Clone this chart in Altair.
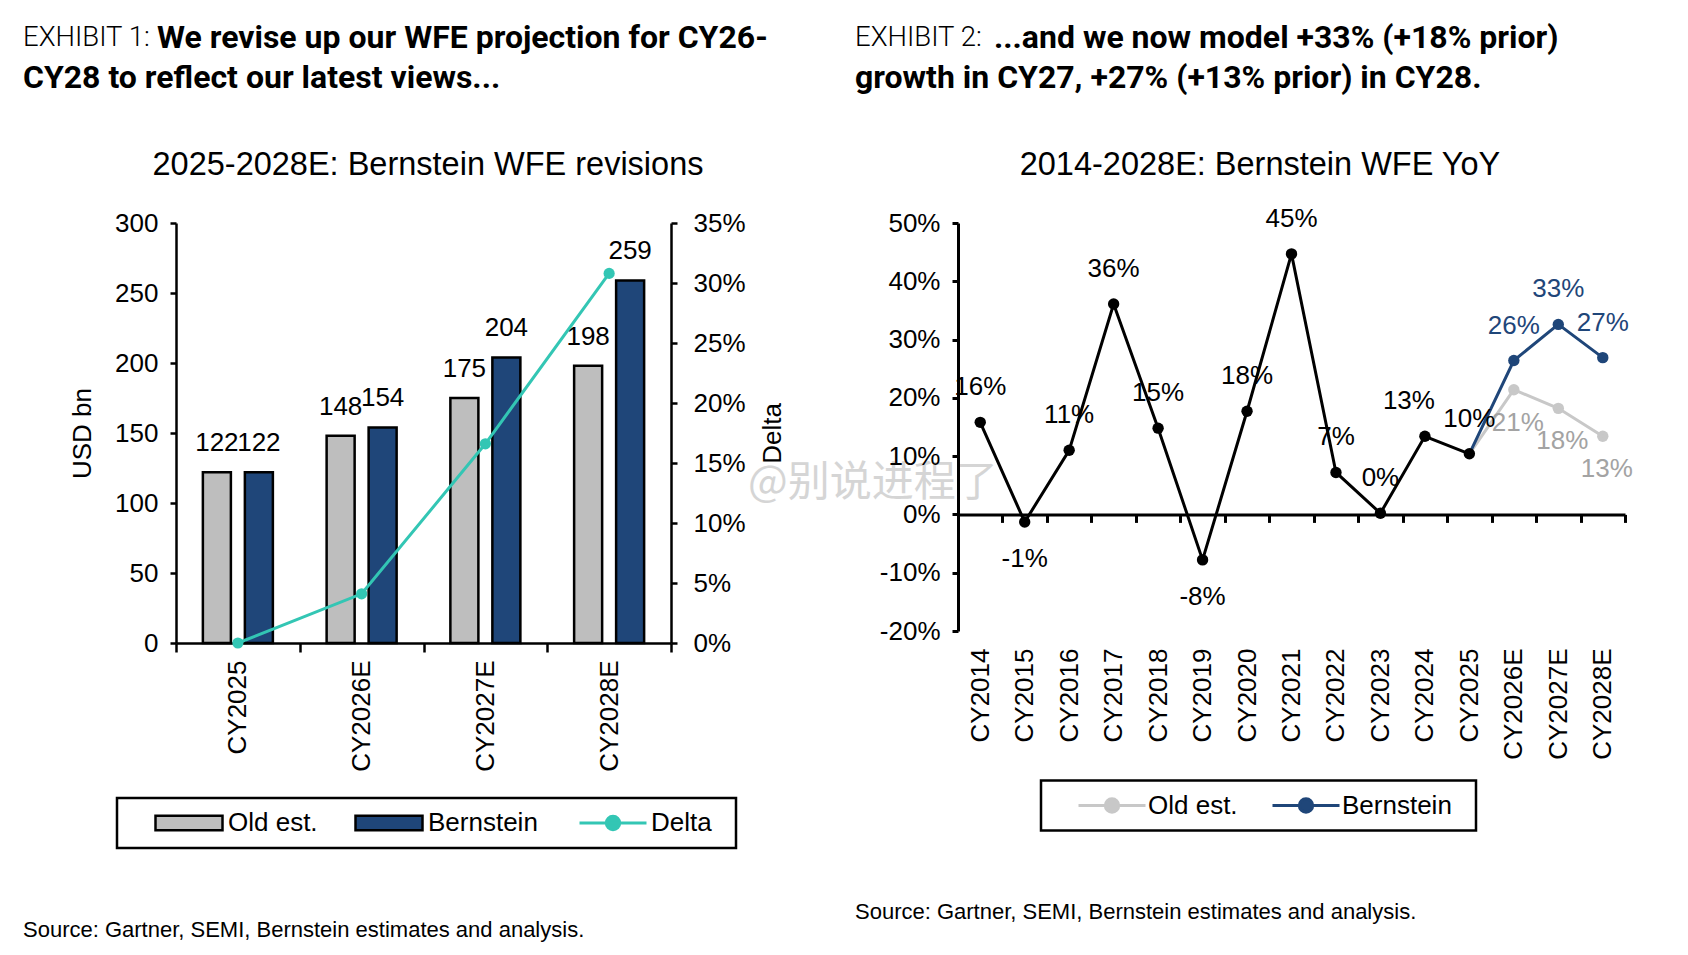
import altair as alt
import pandas as pd

# ---------------- Exhibit 1 data ----------------
cats1 = ["CY2025", "CY2026E", "CY2027E", "CY2028E"]
old_est = [122, 148, 175, 198]
bernstein = [122, 154, 204, 259]
delta_pct = [0.0, 4.1, 16.6, 30.8]

# ---------------- Exhibit 2 data ----------------
years = ["CY2014", "CY2015", "CY2016", "CY2017", "CY2018", "CY2019", "CY2020",
         "CY2021", "CY2022", "CY2023", "CY2024", "CY2025", "CY2026E", "CY2027E", "CY2028E"]
hist_years = years[:12]
hist_yoy = [15.8, -1.3, 11.0, 36.1, 14.8, -7.8, 17.7, 44.7, 7.2, 0.2, 13.4, 10.4]
proj_years = ["CY2025", "CY2026E", "CY2027E", "CY2028E"]
old_yoy = [10.4, 21.4, 18.2, 13.4]
new_yoy = [10.4, 26.4, 32.6, 26.9]

# ---------------- style ----------------
GRAY = "#bebebe"
NAVY = "#1f4679"
TEAL = "#33c6b4"
LGRAY = "#c8c8c8"
GRAYTXT = "#a3a3a3"
FONT = "Liberation Sans"
HFONT = "Roboto"
NB = "\u00a0"

W1, H1 = 495, 420
W2, H2 = 667, 408

LINE_DOT = "M-1,0L1,0M-0.2,0A0.2,0.2,0,1,0,0.2,0A0.2,0.2,0,1,0,-0.2,0Z"
RECT = "M-1,-0.22L1,-0.22L1,0.22L-1,0.22Z"


def txt(s, x, y, size, weight="normal", font=FONT, color="black", align="left",
        baseline="middle", opacity=1.0):
    return alt.Chart(pd.DataFrame({"t": [s]})).mark_text(
        align=align, baseline=baseline, font=font, fontSize=size,
        fontWeight=weight, color=color, opacity=opacity
    ).encode(x=alt.value(x), y=alt.value(y), text="t:N")


# ================= LEFT PANEL =================
bars_df = pd.DataFrame({
    "cat": cats1 * 2,
    "series": ["Old est."] * 4 + ["Bernstein"] * 4,
    "value": old_est + bernstein,
})
delta_df = pd.DataFrame({"cat": cats1, "series": ["Delta"] * 4, "delta": delta_pct})

legend_bars = alt.Legend(
    orient="none", legendX=-59, legendY=575, direction="horizontal", columns=2,
    title=NB, titleOrient="right", titleFontSize=8, titlePadding=187,
    labelFont=FONT, labelFontSize=26, labelColor="black",
    symbolOffset=26, labelOffset=4, columnPadding=10,
    symbolType=RECT, symbolSize=4489, clipHeight=28, padding=11,
    symbolStrokeColor="black", symbolStrokeWidth=2.5, symbolOpacity=1,
    strokeColor="black",
)
legend_delta = alt.Legend(
    orient="none", legendX=402, legendY=586, direction="horizontal", title=None,
    labelFont=FONT, labelFontSize=26, labelColor="black", labelOffset=3,
    symbolType=LINE_DOT, symbolSize=4489, clipHeight=28, padding=0,
    symbolFillColor=TEAL, symbolStrokeWidth=3, symbolOpacity=1,
)

color1 = alt.Color("series:N",
                   scale=alt.Scale(domain=["Old est.", "Bernstein"], range=[GRAY, NAVY]),
                   legend=legend_bars)
stroke1 = alt.Stroke("series:N", scale=alt.Scale(domain=["Delta"], range=[TEAL]),
                     legend=legend_delta)

x1 = alt.X("cat:N", sort=cats1, scale=alt.Scale(domain=cats1, paddingInner=0, paddingOuter=0),
           axis=alt.Axis(title=None, labelAngle=-90, labelFont=FONT, labelFontSize=26,
                         labelColor="black", tickBand="extent", tickSize=9, tickWidth=2.5,
                         tickColor="black", domainColor="black", domainWidth=2.5,
                         labelPadding=8))
xoff1 = alt.XOffset("series:N", sort=["Old est.", "Bernstein"],
                    scale=alt.Scale(domain=["Old est.", "Bernstein"], paddingInner=0.333,
                                    paddingOuter=0.64))
y1 = alt.Y("value:Q", scale=alt.Scale(domain=[0, 300], nice=False),
           axis=alt.Axis(values=[0, 50, 100, 150, 200, 250, 300], title="USD bn", grid=False,
                         labelFont=FONT, labelFontSize=26, labelColor="black", labelPadding=12,
                         tickSize=6, tickWidth=2.5, tickColor="black", domainColor="black",
                         domainWidth=2.5, titleFont=FONT, titleFontSize=26,
                         titleFontWeight="normal", titleColor="black", titleX=-94, titleY=210,
                         titleAngle=270, titleAlign="center", titleBaseline="middle"))

bars = alt.Chart(bars_df).mark_bar(stroke="black", strokeWidth=2.5).encode(
    x=x1, xOffset=xoff1, y=y1, color=color1)
bar_labels = alt.Chart(bars_df).mark_text(
    baseline="middle", dy=-29, font=FONT, fontSize=26, color="black"
).encode(x=x1, xOffset=xoff1, y=alt.Y("value:Q"), text=alt.Text("value:Q", format="d"))

y1r = alt.Y("delta:Q", scale=alt.Scale(domain=[0, 35], nice=False),
            axis=alt.Axis(orient="right", values=[0, 5, 10, 15, 20, 25, 30, 35],
                          labelExpr="datum.value + '%'", title="Delta", grid=False,
                          labelFont=FONT, labelFontSize=26, labelColor="black", labelPadding=16,
                          tickSize=6, tickWidth=2.5, tickColor="black", domainColor="black",
                          domainWidth=2.5, titleFont=FONT, titleFontSize=26,
                          titleFontWeight="normal", titleColor="black", titleX=101, titleY=210,
                          titleAngle=270, titleAlign="center", titleBaseline="middle"))
delta_line = alt.Chart(delta_df).mark_line(strokeWidth=3).encode(
    x=alt.X("cat:N", sort=cats1), y=y1r, stroke=stroke1)
delta_pts = alt.Chart(delta_df).mark_point(filled=True, size=125, opacity=1, color=TEAL).encode(
    x=alt.X("cat:N", sort=cats1), y=alt.Y("delta:Q"))

bar_layer = alt.layer(bars, bar_labels)
line_layer = alt.layer(delta_line, delta_pts)

left_ann = [
    txt("EXHIBIT 1:", -153, -184.8, 27.5, weight=300, font=HFONT),
    txt("We revise up our WFE projection for CY26-", -19, -184.8, 32, weight="bold", font=HFONT),
    txt("CY28 to reflect our latest views...", -153, -144.9, 32, weight="bold", font=HFONT),
    txt("2025-2028E: Bernstein WFE revisions", 252, -58.5, 32.5, align="center"),
    txt("Source: Gartner, SEMI, Bernstein estimates and analysis.", -153, 706.5, 22),
    txt("@别说进程了", 572, 259.5, 42, font="Noto Sans CJK SC", color="#c4c4c4", opacity=0.7),
]

left = alt.layer(bar_layer, line_layer, *left_ann).resolve_scale(y="independent").properties(
    width=W1, height=H1)

# ================= RIGHT PANEL =================
hist_df = pd.DataFrame({"year": hist_years, "v": hist_yoy})
proj_df = pd.DataFrame({
    "year": proj_years * 2,
    "series": ["Old est."] * 4 + ["Bernstein"] * 4,
    "v": old_yoy + new_yoy,
})

legend2 = alt.Legend(
    orient="none", legendX=83, legendY=557.5, direction="horizontal", columns=2,
    title=NB, titleOrient="right", titleFontSize=8, titlePadding=13,
    labelFont=FONT, labelFontSize=26, labelColor="black",
    symbolOffset=25, labelOffset=1, columnPadding=8,
    symbolType=LINE_DOT, symbolSize=4489, clipHeight=28, padding=11,
    symbolStrokeWidth=3, symbolOpacity=1, strokeColor="black",
)
dom2 = ["Old est.", "Bernstein"]
stroke2 = alt.Stroke("series:N", scale=alt.Scale(domain=dom2, range=[LGRAY, NAVY]), legend=legend2)
fill2 = alt.Fill("series:N", scale=alt.Scale(domain=dom2, range=[LGRAY, NAVY]), legend=legend2)

x2 = alt.X("year:N", sort=years, scale=alt.Scale(domain=years, paddingInner=0, paddingOuter=0),
           axis=alt.Axis(title=None, labelAngle=-90, labelFont=FONT, labelFontSize=26,
                         labelColor="black", tickBand="extent", tickSize=8, tickWidth=3,
                         tickColor="black", domainColor="black", domainWidth=3,
                         offset=-116.6, labelPadding=125.6))
y2 = alt.Y("v:Q", scale=alt.Scale(domain=[-20, 50], nice=False),
           axis=alt.Axis(values=[-20, -10, 0, 10, 20, 30, 40, 50], labelExpr="datum.value + '%'",
                         title=None, grid=False, labelFont=FONT, labelFontSize=26,
                         labelColor="black", labelPadding=12, tickSize=6, tickWidth=3,
                         tickColor="black", domainColor="black", domainWidth=3))

proj_pts = alt.Chart(proj_df).transform_filter("datum.year != 'CY2025'").mark_point(
    filled=True, size=130, opacity=1).encode(x=x2, y=y2, fill=fill2)
proj_lines = alt.Chart(proj_df).mark_line(strokeWidth=3).encode(
    x=x2, y=alt.Y("v:Q"), stroke=stroke2)

hist_line = alt.Chart(hist_df).mark_line(strokeWidth=3, color="black").encode(
    x=x2, y=alt.Y("v:Q"))
hist_pts = alt.Chart(hist_df).mark_point(filled=True, size=130, color="black", opacity=1).encode(
    x=x2, y=alt.Y("v:Q"))

lab = "toString(round(datum.v)) + '%'"
hist_lab_pos = alt.Chart(hist_df).transform_filter(
    "datum.v >= 0 && datum.year != 'CY2024'").transform_calculate(lab=lab).mark_text(
    baseline="middle", dy=-35, font=FONT, fontSize=26, color="black").encode(
    x=x2, y=alt.Y("v:Q"), text="lab:N")
hist_lab_2024 = alt.Chart(hist_df).transform_filter(
    "datum.year == 'CY2024'").transform_calculate(lab=lab).mark_text(
    baseline="middle", dy=-35, dx=-16, font=FONT, fontSize=26, color="black").encode(
    x=x2, y=alt.Y("v:Q"), text="lab:N")
hist_lab_neg = alt.Chart(hist_df).transform_filter("datum.v < 0").transform_calculate(
    lab=lab).mark_text(baseline="middle", dy=37, font=FONT, fontSize=26, color="black").encode(
    x=x2, y=alt.Y("v:Q"), text="lab:N")
new_lab = alt.Chart(proj_df).transform_filter(
    "datum.series == 'Bernstein' && datum.year != 'CY2025'").transform_calculate(
    lab=lab).mark_text(baseline="middle", dy=-35, font=FONT, fontSize=26, color=NAVY).encode(
    x=x2, y=alt.Y("v:Q"), text="lab:N")
old_lab = alt.Chart(proj_df).transform_filter(
    "datum.series == 'Old est.' && datum.year != 'CY2025'").transform_calculate(
    lab=lab).mark_text(baseline="middle", dy=33, dx=4, font=FONT, fontSize=26,
                       color=GRAYTXT).encode(x=x2, y=alt.Y("v:Q"), text="lab:N")

right_ann = [
    txt("EXHIBIT 2:", -103, -184.8, 27.5, weight=300, font=HFONT),
    txt("...and we now model +33% (+18% prior)", 36, -184.8, 32, weight="bold", font=HFONT),
    txt("growth in CY27, +27% (+13% prior) in CY28.", -103, -144.9, 32, weight="bold", font=HFONT),
    txt("2014-2028E: Bernstein WFE YoY", 302, -58.5, 32.5, align="center"),
    txt("Source: Gartner, SEMI, Bernstein estimates and analysis.", -103, 688.5, 22),
]

right = alt.layer(proj_pts, proj_lines, hist_line, hist_pts, hist_lab_pos, hist_lab_2024,
                  hist_lab_neg, new_lab, old_lab, *right_ann).properties(width=W2, height=H2)

chart = alt.hconcat(left, right, spacing=287, bounds="flush").resolve_scale(
    color="independent", stroke="independent", fill="independent"
).resolve_legend(
    color="independent", stroke="independent", fill="independent"
).properties(
    padding={"left": 15, "top": 14, "right": 5, "bottom": 5}, background="white"
).configure(font=FONT).configure_view(strokeWidth=0, stroke="transparent").configure_legend(
    strokeWidth=2.5)

chart.save("out.html", embed_options={"renderer": "svg", "actions": False})
